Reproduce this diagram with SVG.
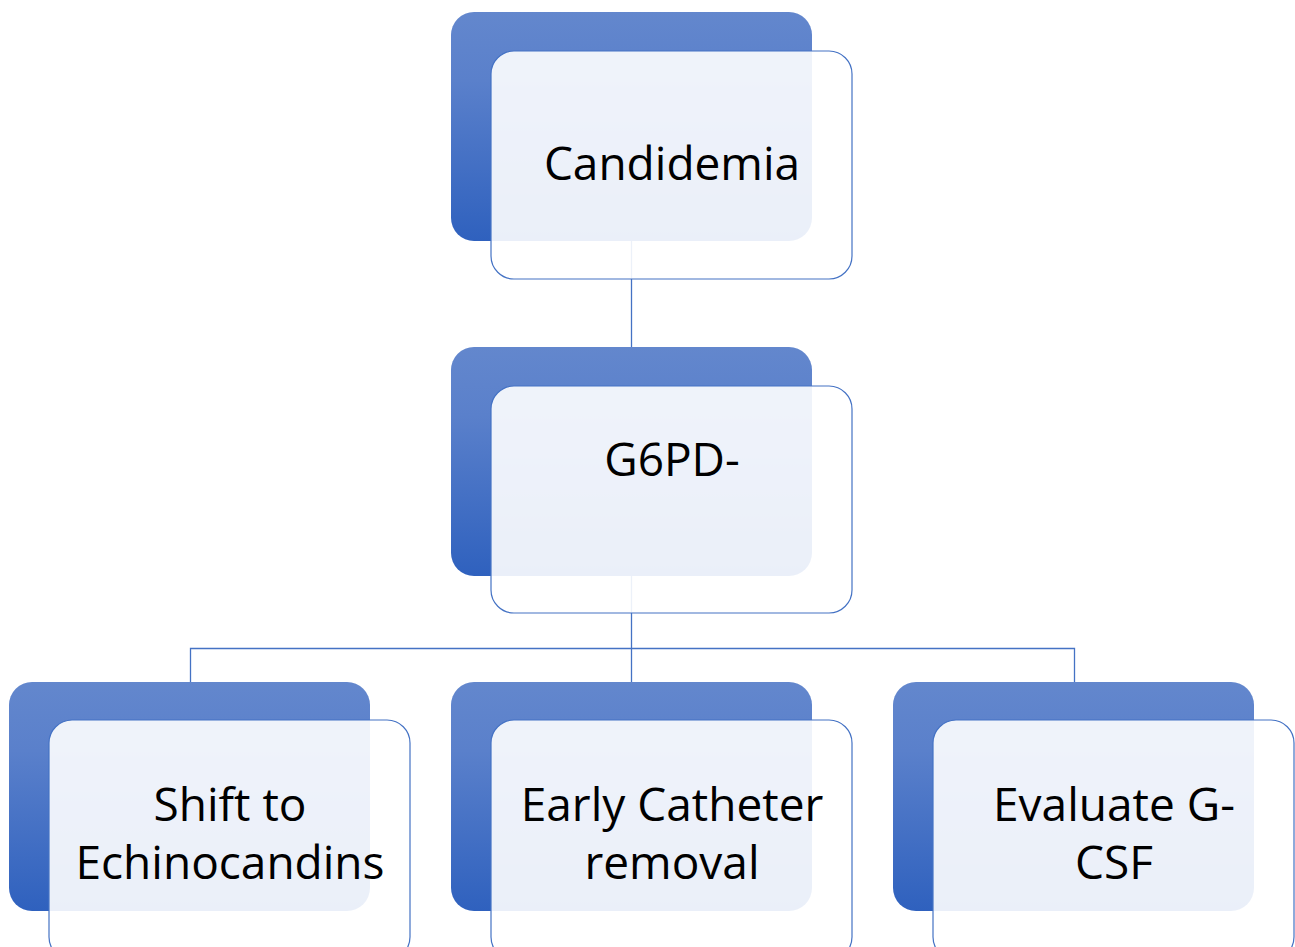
<svg xmlns="http://www.w3.org/2000/svg" width="1295" height="947" viewBox="0 0 1295 947">
<defs>
<linearGradient id="g" x1="0" y1="0" x2="0" y2="1">
<stop offset="0" stop-color="#6387CD"/>
<stop offset="0.3" stop-color="#5A80CB"/>
<stop offset="1" stop-color="#2F61BE"/>
</linearGradient>
<style>
.back{fill:url(#g)}
.front{fill:#FFFFFF;fill-opacity:0.9;stroke:#4472C4;stroke-width:1.2}
.conn{fill:none;stroke:#4472C4;stroke-width:1.3}
text{font-family:"Open Sans","Liberation Sans",sans-serif;font-size:46px;fill:#000;text-anchor:middle}
</style>
</defs>
<rect width="1295" height="947" fill="#fff"/>
<g id="connectors">
<path class="conn" d="M631.5 241V347"/>
<path class="conn" d="M631.5 576V682M190.5 682V648.5H1074.5V682"/>
</g>
<g id="node-candidemia">
<rect class="back" x="451" y="12" width="361" height="229" rx="23"/>
<rect class="front" x="491" y="51" width="361" height="228" rx="23"/>
<text x="672" y="180">Candidemia</text>
</g>
<g id="node-g6pd">
<rect class="back" x="451" y="347" width="361" height="229" rx="23"/>
<rect class="front" x="491" y="386" width="361" height="227" rx="23"/>
<text x="672" y="476">G6PD-</text>
</g>
<g id="node-shift">
<rect class="back" x="9" y="682" width="361" height="229" rx="23"/>
<rect class="front" x="49" y="720" width="361" height="240" rx="23"/>
<text x="230" y="821">Shift to</text>
<text x="230" y="879">Echinocandins</text>
</g>
<g id="node-catheter">
<rect class="back" x="451" y="682" width="361" height="229" rx="23"/>
<rect class="front" x="491" y="720" width="361" height="240" rx="23"/>
<text x="672" y="821">Early Catheter</text>
<text x="672" y="879">removal</text>
</g>
<g id="node-gcsf">
<rect class="back" x="893" y="682" width="361" height="229" rx="23"/>
<rect class="front" x="933" y="720" width="361" height="240" rx="23"/>
<text x="1114" y="821">Evaluate G-</text>
<text x="1114" y="879">CSF</text>
</g>
</svg>
